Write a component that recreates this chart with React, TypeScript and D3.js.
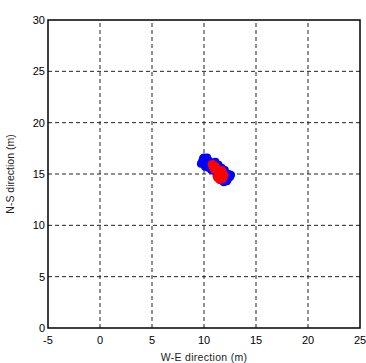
import * as d3 from 'd3';

const xTicks = [-5, 0, 5, 10, 15, 20, 25];
const yTicks = [0, 5, 10, 15, 20, 25, 30];

// blue track points (m)
const blueX = [9.8, 9.9, 10.0, 10.2, 10.3, 10.1, 10.5, 10.6, 10.8, 10.9, 11.0, 11.2, 11.3, 11.4, 11.5, 11.6, 11.7, 11.8, 11.9, 12.0, 12.1, 12.2, 12.3, 12.4, 12.5, 11.1, 10.4, 11.6, 12.0, 10.7, 9.7, 10.0, 12.6, 12.2, 10.3, 11.2, 11.9];
const blueY = [16.2, 16.5, 15.9, 16.4, 16.0, 15.7, 16.3, 15.8, 16.1, 15.5, 15.9, 15.6, 15.2, 15.9, 15.4, 15.0, 15.6, 14.8, 15.3, 14.6, 15.1, 14.8, 14.5, 15.0, 14.7, 16.2, 15.6, 14.4, 15.4, 15.4, 16.0, 16.6, 14.9, 14.3, 16.6, 14.9, 14.2];

// red estimate points (m)
const redX = [10.8, 11.1, 11.4, 11.6, 11.8, 11.3, 11.0, 11.7, 11.9, 11.5];
const redY = [15.9, 15.7, 15.3, 14.9, 14.6, 14.7, 15.5, 15.3, 14.9, 14.5];

const W = 366;
const H = 363;
const m = { left: 48, right: 6, top: 20, bottom: 35 };

export default function App() {
  const x = d3.scaleLinear().domain([-5, 25]).range([m.left, W - m.right]);
  const y = d3.scaleLinear().domain([0, 30]).range([H - m.bottom, m.top]);
  const font = 'Arial, "Liberation Sans", sans-serif';

  return (
    <svg
      width={W}
      height={H}
      style={{ position: 'absolute', left: 0, top: 0, background: '#fff' }}
      fontFamily={font}
    >
      <rect x={0} y={0} width={W} height={H} fill="#fff" />
      {xTicks.slice(1, -1).map((t) => (
        <line key={'gx' + t} x1={x(t)} x2={x(t)} y1={y(0)} y2={y(30)} stroke="#222" strokeWidth={1} strokeDasharray="4,3" />
      ))}
      {yTicks.slice(1, -1).map((t) => (
        <line key={'gy' + t} x1={x(-5)} x2={x(25)} y1={y(t)} y2={y(t)} stroke="#222" strokeWidth={1} strokeDasharray="4,3" />
      ))}
      {blueX.map((v, i) => (
        <circle key={'b' + i} cx={x(v)} cy={y(blueY[i])} r={4} fill="#0000ff" />
      ))}
      {redX.map((v, i) => (
        <circle key={'r' + i} cx={x(v)} cy={y(redY[i])} r={4.8} fill="#ff0000" />
      ))}
      <rect
        x={x(-5)}
        y={y(30)}
        width={x(25) - x(-5)}
        height={y(0) - y(30)}
        fill="none"
        stroke="#000"
        strokeWidth={1.5}
      />
      {xTicks.map((t) => (
        <text key={'tx' + t} x={x(t)} y={y(0) + 16} fontSize={11} textAnchor="middle" fill="#000">
          {t}
        </text>
      ))}
      {yTicks.map((t) => (
        <text key={'ty' + t} x={x(-5) - 3} y={y(t) + 4} fontSize={11} textAnchor="end" fill="#000">
          {t}
        </text>
      ))}
      <text x={(x(-5) + x(25)) / 2} y={H - 2} fontSize={10.5} textAnchor="middle" fill="#222" letterSpacing={0.3}>
        W-E direction (m)
      </text>
      <text
        transform={`translate(14,${(y(0) + y(30)) / 2}) rotate(-90)`}
        fontSize={10.5}
        textAnchor="middle"
        fill="#222"
      >
        N-S direction (m)
      </text>
    </svg>
  );
}
